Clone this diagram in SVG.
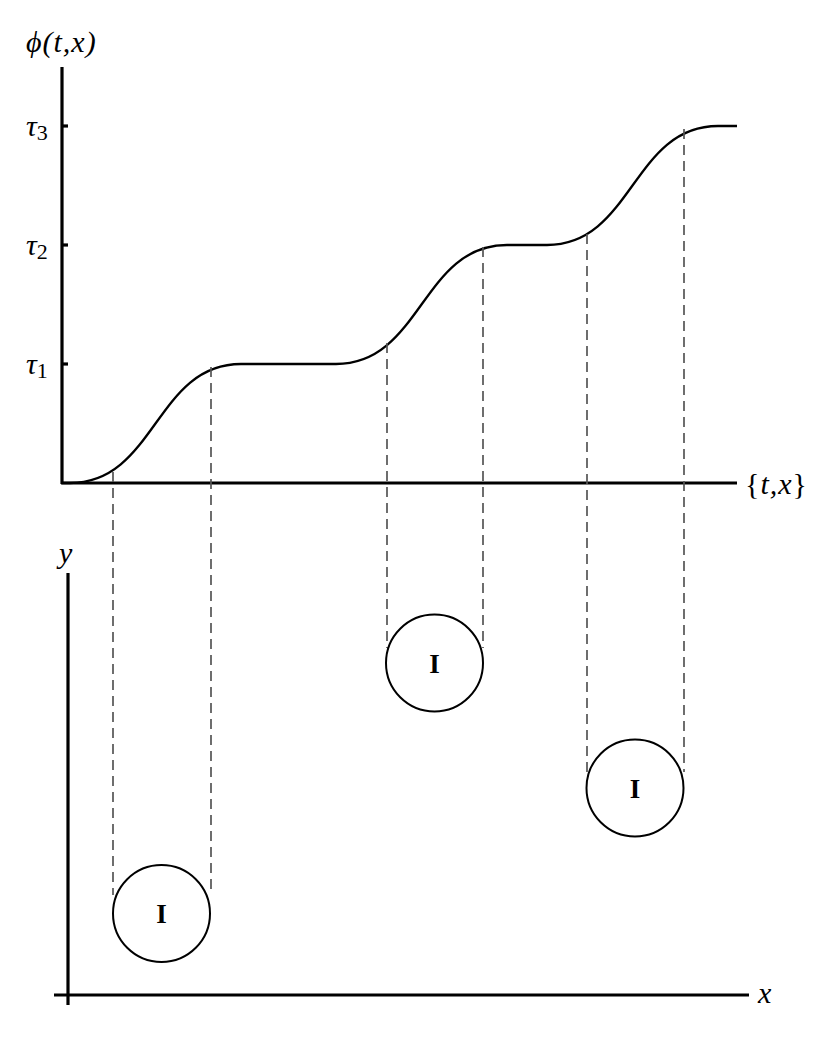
<svg xmlns="http://www.w3.org/2000/svg" width="830" height="1038" viewBox="0 0 830 1038">
<style>
.axis{stroke:#000;stroke-width:3.2;fill:none}
.curve{stroke:#000;stroke-width:2.3;fill:none}
.dash{stroke:#555;stroke-width:1.7;stroke-dasharray:10 6;fill:none}
.circ{stroke:#000;stroke-width:2;fill:#fff}
.lbl{font-family:"Liberation Serif",serif;font-style:italic;font-size:30px;fill:#000}
.nodet{font-family:"Liberation Serif",serif;font-weight:bold;font-size:27px;fill:#000;text-anchor:middle}
</style>
<rect width="830" height="1038" fill="#fff"/>
<g id="top-axes">
<line class="axis" x1="62" y1="67" x2="62" y2="484"/>
<line class="axis" x1="61" y1="483" x2="737" y2="483"/>
<line class="axis" x1="62" y1="126" x2="68" y2="126"/>
<line class="axis" x1="62" y1="245" x2="68" y2="245"/>
<line class="axis" x1="62" y1="364" x2="68" y2="364"/>
<text class="lbl" x="26" y="52" letter-spacing="1">ϕ(t,x)</text>
<text class="lbl" x="26" y="136">τ<tspan font-style="normal" font-size="22" dy="4">3</tspan></text>
<text class="lbl" x="26" y="255">τ<tspan font-style="normal" font-size="22" dy="4">2</tspan></text>
<text class="lbl" x="26" y="374">τ<tspan font-style="normal" font-size="22" dy="4">1</tspan></text>
<text class="lbl" x="745" y="494" letter-spacing="1"><tspan font-style="normal">{</tspan>t,x<tspan font-style="normal">}</tspan></text>
</g>
<g id="curve">
<path class="curve" d="M62,483 L70,483 C155.5,483 155.5,364 241,364 L336,364 C421.5,364 421.5,245 507,245 L547,245 C632.5,245 632.5,126 718,126 L737,126"/>
</g>
<g id="connectors">
<line class="dash" x1="113" y1="472" x2="113" y2="895"/>
<line class="dash" x1="211" y1="367" x2="211" y2="895"/>
<line class="dash" x1="387" y1="343" x2="387" y2="648"/>
<line class="dash" x1="483" y1="247" x2="483" y2="648"/>
<line class="dash" x1="587" y1="234" x2="587" y2="772"/>
<line class="dash" x1="684" y1="129" x2="684" y2="772"/>
</g>
<g id="bottom-axes">
<line class="axis" x1="68" y1="573" x2="68" y2="1005"/>
<line class="axis" x1="54" y1="995" x2="749" y2="995"/>
<text class="lbl" x="59" y="563">y</text>
<text class="lbl" x="758" y="1003">x</text>
</g>
<g id="node1">
<circle class="circ" cx="161.5" cy="913.5" r="48.5"/>
<text class="nodet" x="161.5" y="923">I</text>
</g>
<g id="node2">
<circle class="circ" cx="434.5" cy="663" r="48.5"/>
<text class="nodet" x="434.5" y="672.5">I</text>
</g>
<g id="node3">
<circle class="circ" cx="635" cy="788" r="48.5"/>
<text class="nodet" x="635" y="797.5">I</text>
</g>
</svg>
